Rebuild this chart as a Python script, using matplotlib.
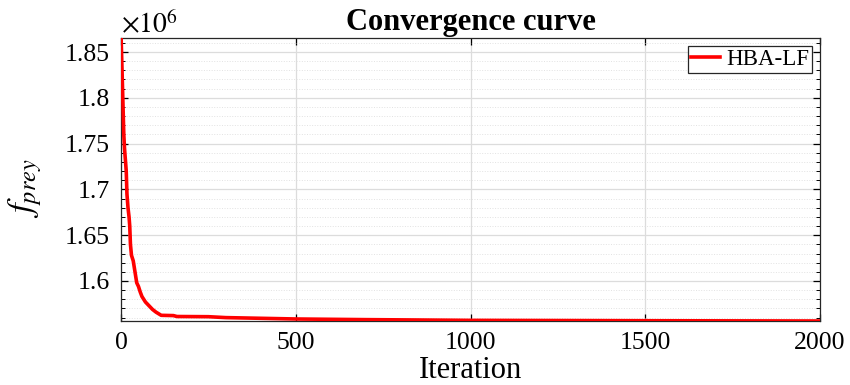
import matplotlib
matplotlib.use("Agg")
import matplotlib.pyplot as plt
from matplotlib.ticker import MultipleLocator, FuncFormatter

plt.rcParams['font.family'] = ['Liberation Serif', 'DejaVu Serif']
plt.rcParams['mathtext.fontset'] = 'stix'

iterations = [0, 3, 8, 10, 12, 15, 17, 20, 23, 25, 27, 30, 35, 40, 45, 50, 55, 60,
              70, 80, 90, 100, 115, 150, 160, 250, 300, 500, 700, 1000, 1500, 2000]
fitness = [1.870e6, 1.830e6, 1.760e6, 1.745e6, 1.735e6, 1.720e6, 1.695e6, 1.680e6,
           1.670e6, 1.660e6, 1.640e6, 1.628e6, 1.622e6, 1.610e6, 1.598e6, 1.594e6,
           1.588e6, 1.583e6, 1.577e6, 1.573e6, 1.569e6, 1.566e6, 1.5625e6, 1.5622e6,
           1.5612e6, 1.5610e6, 1.5600e6, 1.5585e6, 1.5578e6, 1.5570e6, 1.5566e6, 1.5563e6]
series_name = "HBA-LF"
x_ticks = [0, 500, 1000, 1500, 2000]
y_ticks = [1.60e6, 1.65e6, 1.70e6, 1.75e6, 1.80e6, 1.85e6]

fig = plt.figure(figsize=(8.5, 3.85), dpi=100)
ax = fig.add_axes([121/850, 1 - 321/385, (820 - 121)/850, (321 - 38)/385])

ax.plot(iterations, fitness, color='#ff0000', linewidth=2.6, label=series_name, zorder=3)

ax.set_xlim(0, 2000)
ax.set_ylim(1.5563e6, 1.8653e6)
ax.set_xticks(x_ticks)
ax.set_yticks(y_ticks)
ax.yaxis.set_minor_locator(MultipleLocator(0.01e6))
ax.yaxis.set_major_formatter(FuncFormatter(lambda v, p: f"{v/1e6:g}"))

ax.grid(True, which='major', color='#dcdcdc', linewidth=0.9, linestyle='-')
ax.grid(True, which='minor', axis='y', color='#e2e2e2', linewidth=0.7, linestyle=':')
ax.set_axisbelow(True)

ax.tick_params(axis='both', which='major', direction='in', length=5, width=0.9,
               top=True, right=True, labelsize=18.5, colors='black')
ax.tick_params(axis='y', which='major', pad=8)
ax.tick_params(axis='x', which='major', pad=8)
ax.tick_params(axis='y', which='minor', direction='in', length=3, width=0.7,
               left=True, right=True)
for s in ax.spines.values():
    s.set_color('#262626')
    s.set_linewidth(0.9)

ax.set_title("Convergence curve", fontsize=22, fontweight='bold', pad=5.5)
ax.set_xlabel("Iteration", fontsize=22, labelpad=1)
ax.set_ylabel(r"$f_{prey}$", fontsize=25)
ax.yaxis.set_label_coords(-0.11, 0.47)
ax.text(0.0, 1.018, r"$\times10^{6}$", transform=ax.transAxes, fontsize=20,
        ha='left', va='baseline')

leg = ax.legend(loc='upper right', fontsize=16.5, frameon=True, fancybox=False,
                handlelength=1.3, handletextpad=0.25, borderpad=0.12,
                borderaxespad=0.35)
leg.get_frame().set_edgecolor('#262626')
leg.get_frame().set_linewidth(0.9)
leg.get_frame().set_alpha(1)

fig.savefig("out.png", dpi=100)
